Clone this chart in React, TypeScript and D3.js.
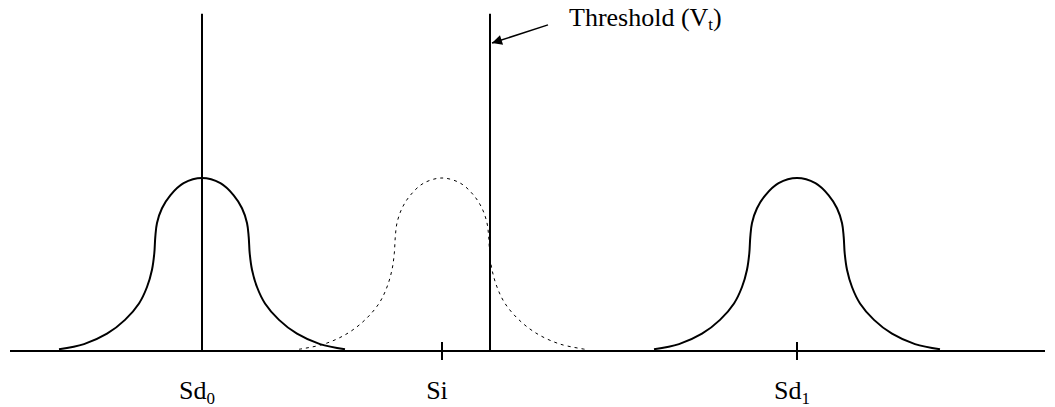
import React from 'react';
import * as d3 from 'd3';

// pulse profile (offset from centre in units, relative height)
const profileOffset = [-1.43, -1.18, -0.95, -0.77, -0.63, -0.55, -0.5, -0.477, -0.467, -0.45, -0.4, -0.317, -0.184, 0,
  0.184, 0.317, 0.4, 0.45, 0.467, 0.477, 0.5, 0.55, 0.63, 0.77, 0.95, 1.18, 1.43];
const profileHeight = [0.01, 0.04, 0.1, 0.18, 0.275, 0.37, 0.47, 0.565, 0.66, 0.74, 0.825, 0.9, 0.97, 1,
  0.97, 0.9, 0.825, 0.74, 0.66, 0.565, 0.47, 0.37, 0.275, 0.18, 0.1, 0.04, 0.01];

// signal levels
const levelNames = ['Sd', 'Si', 'Sd'];
const levelSubs = ['0', '', '1'];
const levelCenters = [1.92, 4.32, 7.87];
const levelDashed = [false, true, false];
const levelCenterLine = [true, false, false];
const levelTick = [false, true, true];

const threshold = 4.8;
const lineTop = 1.95;

const width = 1055;
const height = 407;

export default function App() {
  const x = d3.scaleLinear().domain([0, 10.35]).range([10, 1045]);
  const y = d3.scaleLinear().domain([0, 1]).range([351, 178]);

  const pulse = (c: number) =>
    d3
      .line<number>()
      .x((d) => x(c + d))
      .y((d, i) => y(profileHeight[i]))
      .curve(d3.curveCatmullRom.alpha(0.5))(profileOffset) as string;

  const arrowFrom = [5.38, 1.885];
  const arrowTo = [threshold + 0.02, 1.78];

  return (
    <svg width={width} height={height} style={{ position: 'absolute', left: 0, top: 0, background: '#fff' }}
      fontFamily="'Liberation Serif', 'Times New Roman', serif">
      <defs>
        <marker id="ah" viewBox="0 0 10 10" refX="10" refY="5" markerWidth="14" markerHeight="10"
          markerUnits="userSpaceOnUse" orient="auto">
          <path d="M0,0 L10,5 L0,10 z" fill="#000" />
        </marker>
      </defs>

      {/* baseline */}
      <line x1={x(0)} x2={x(10.35)} y1={y(0)} y2={y(0)} stroke="#000" strokeWidth={2} />

      {levelCenters.map((c, i) => (
        <g key={i}>
          <path d={pulse(c)} fill="none" stroke="#000"
            strokeWidth={levelDashed[i] ? 1 : 2}
            strokeDasharray={levelDashed[i] ? '3,4' : undefined} />
          {levelCenterLine[i] && (
            <line x1={x(c)} x2={x(c)} y1={y(0)} y2={y(lineTop)} stroke="#000" strokeWidth={2} />
          )}
          {levelTick[i] && (
            <line x1={x(c)} x2={x(c)} y1={y(0) - 9} y2={y(0) + 9} stroke="#000" strokeWidth={2} />
          )}
          <text x={x(c) - 5} y={399} textAnchor="middle" fontSize={26}>
            {levelNames[i]}
            {levelSubs[i] && (
              <tspan fontSize={17} dy={5}>{levelSubs[i]}</tspan>
            )}
          </text>
        </g>
      ))}

      {/* threshold */}
      <line x1={x(threshold)} x2={x(threshold)} y1={y(0)} y2={y(lineTop)} stroke="#000" strokeWidth={2} />
      <line x1={x(arrowFrom[0])} y1={y(arrowFrom[1])} x2={x(arrowTo[0])} y2={y(arrowTo[1])}
        stroke="#000" strokeWidth={1.5} markerEnd="url(#ah)" />
      <text x={569} y={26} fontSize={26}>
        Threshold (V<tspan fontSize={17} dy={4}>t</tspan><tspan dy={-4}>)</tspan>
      </text>
    </svg>
  );
}
